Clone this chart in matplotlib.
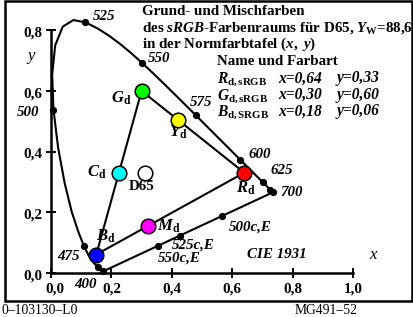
import matplotlib
matplotlib.use("Agg")
import matplotlib.pyplot as plt
from matplotlib.patches import Rectangle

plt.rcParams['font.family'] = ['Liberation Serif', 'DejaVu Serif']
plt.rcParams['mathtext.fontset'] = 'custom'
plt.rcParams['mathtext.rm'] = 'Liberation Serif:bold'
plt.rcParams['mathtext.bf'] = 'Liberation Serif:bold'
plt.rcParams['mathtext.it'] = 'Liberation Serif:italic:bold'

# ---------------- data ----------------
# CIE 1931 spectral locus (wavelength nm, x, y)
wavelengths = [380, 400, 410, 420, 430, 440, 450, 460, 465, 470, 475, 480, 485, 490, 495,
               500, 505, 510, 515, 520, 525, 530, 535, 540, 545, 550, 555, 560, 565, 570,
               575, 580, 585, 590, 595, 600, 605, 610, 615, 620, 625, 630, 640, 650, 660,
               680, 700]
locus_x = [0.1741, 0.1733, 0.1726, 0.1714, 0.1689, 0.1644, 0.1566, 0.1440, 0.1355, 0.1241,
           0.1096, 0.0913, 0.0687, 0.0454, 0.0235, 0.0082, 0.0039, 0.0139, 0.0389, 0.0743,
           0.1142, 0.1547, 0.1929, 0.2296, 0.2658, 0.3016, 0.3373, 0.3731, 0.4087, 0.4441,
           0.4788, 0.5125, 0.5448, 0.5752, 0.6029, 0.6270, 0.6482, 0.6658, 0.6801, 0.6915,
           0.7006, 0.7079, 0.7190, 0.7260, 0.7300, 0.7334, 0.7347]
locus_y = [0.0050, 0.0048, 0.0048, 0.0051, 0.0069, 0.0109, 0.0177, 0.0297, 0.0399, 0.0578,
           0.0868, 0.1327, 0.2007, 0.2950, 0.4127, 0.5384, 0.6548, 0.7502, 0.8120, 0.8338,
           0.8262, 0.8059, 0.7816, 0.7543, 0.7243, 0.6923, 0.6589, 0.6245, 0.5896, 0.5547,
           0.5202, 0.4866, 0.4544, 0.4242, 0.3965, 0.3725, 0.3514, 0.3340, 0.3197, 0.3083,
           0.2993, 0.2920, 0.2809, 0.2740, 0.2700, 0.2666, 0.2653]
marked_wl = [400, 450, 475, 500, 525, 550, 575, 600, 625, 650, 700]
labeled_wl = ['400', '475', '500', '525', '550', '575', '600', '625', '700']

# purple line (400 nm -> 700 nm) and complementary wavelength points
purple_x = [0.1733, 0.7347]
purple_y = [0.0048, 0.2653]
compl_labels = ['500c,E', '525c,E', '550c,E']
compl_x = [0.565, 0.427, 0.354]
compl_y = [0.188, 0.122, 0.089]

# sRGB primaries and mixtures
prim_names = ['R', 'G', 'B']
prim_x = [0.64, 0.30, 0.15]
prim_y = [0.33, 0.60, 0.06]
prim_colors = ['#ff0000', '#00ff00', '#0000ff']
mix_names = ['Y', 'C', 'M', 'D65']
mix_x = [0.419, 0.225, 0.321, 0.3127]
mix_y = [0.505, 0.329, 0.154, 0.329]
mix_colors = ['#ffff00', '#00ffff', '#ff00ff', '#ffffff']

x_ticks = [0.0, 0.2, 0.4, 0.6, 0.8, 1.0]
y_ticks = [0.0, 0.2, 0.4, 0.6, 0.8]
x_ticklabels = ['0,0', '0,2', '0,4', '0,6', '0,8', '1,0']
y_ticklabels = ['0,0', '0,2', '0,4', '0,6', '0,8']

table_rows = [(r'$R_{\mathrm{d,sRGB}}$', 'x=0,64', 'y=0,33'),
              (r'$G_{\mathrm{d,sRGB}}$', 'x=0,30', 'y=0,60'),
              (r'$B_{\mathrm{d,SRGB}}$', 'x=0,18', 'y=0,06')]

# ---------------- figure ----------------
W, H = 413, 317
X0, XS = 51.0, 302.0
Y0, YS = 272.7, 303.0


def fx(px):
    return (px - X0) / XS


def fy(py):
    return (Y0 - py) / YS


fig = plt.figure(figsize=(W / 100, H / 100), dpi=100)
ax = fig.add_axes([0, 0, 1, 1])
ax.set_xlim(fx(0), fx(W))
ax.set_ylim(fy(H), fy(0))
ax.axis('off')

# frame
ax.add_patch(Rectangle((fx(5), fy(301)), fx(412) - fx(5), fy(1) - fy(301),
                       fill=False, lw=1.8, ec='black', zorder=1))

# axes
ax.plot([0, 1.0], [0, 0], color='black', lw=1.8, zorder=2)
ax.plot([0, 0], [0, 0.8], color='black', lw=1.8, zorder=2)
tx = 4 / XS
ty = 4 / YS
for v, lab in zip(x_ticks, x_ticklabels):
    ax.plot([v, v], [-ty, ty], color='black', lw=1.4)
    ax.text(v + (4 / XS if v == 0 else 0), fy(289), lab, ha='center', va='center',
            fontsize=10.8, fontweight='bold')
for v, lab in zip(y_ticks, y_ticklabels):
    ax.plot([-tx, tx], [v, v], color='black', lw=1.4)
    ax.text(fx(42), v - 3 / YS, lab, ha='right', va='center', fontsize=10.8, fontweight='bold')

ax.text(fx(31), fy(56), 'y', ha='center', va='center', fontsize=12, style='italic')
ax.text(fx(373), fy(255), 'x', ha='center', va='center', fontsize=12, style='italic')
ax.text(fx(247), fy(255), 'CIE 1931', ha='left', va='center', fontsize=10.8,
        fontweight='bold', style='italic')

# spectral locus
ax.plot(locus_x, locus_y, color='black', lw=1.5, zorder=3)
ax.plot(purple_x, purple_y, color='black', lw=1.5, zorder=3)
mk_x = [locus_x[wavelengths.index(w)] for w in marked_wl]
mk_y = [locus_y[wavelengths.index(w)] for w in marked_wl]
ax.plot(mk_x, mk_y, 'o', color='black', ms=4.2, zorder=4)
ax.plot(compl_x, compl_y, 'o', color='black', ms=4.2, zorder=4)

wl_label_pos = {'525': (93, 17), '550': (148, 59), '575': (190, 103), '600': (248, 154),
                '625': (270, 170), '700': (280, 193), '500': (17, 112), '475': (57, 257),
                '400': (74, 284)}
for lab in labeled_wl:
    px, py = wl_label_pos[lab]
    ax.text(fx(px), fy(py), lab, ha='left', va='center', fontsize=10.8,
            fontweight='bold', style='italic')

compl_pos = {'500c,E': (229, 227), '525c,E': (172, 245), '550c,E': (158, 258)}
for lab in compl_labels:
    px, py = compl_pos[lab]
    ax.text(fx(px), fy(py), lab, ha='left', va='center', fontsize=10.8,
            fontweight='bold', style='italic')

# triangle
tri_x = prim_x + [prim_x[0]]
tri_y = prim_y + [prim_y[0]]
ax.plot(tri_x, tri_y, color='black', lw=1.5, zorder=5)

for x, y, c in zip(prim_x + mix_x, prim_y + mix_y, prim_colors + mix_colors):
    ax.plot([x], [y], 'o', ms=10.5, mfc=c, mec='black', mew=1.1, zorder=6)

circ_label_pos = {'R': (236, 188), 'G': (111, 98), 'B': (96, 236), 'Y': (169, 132),
                  'C': (87, 172), 'M': (157, 226)}
for n in ['R', 'G', 'B', 'Y', 'C', 'M']:
    px, py = circ_label_pos[n]
    ax.text(fx(px), fy(py), r'$%s_{\mathrm{d}}$' % n, ha='left', va='center', fontsize=12)
ax.text(fx(129), fy(186.5), 'D65', ha='left', va='center', fontsize=10.8, fontweight='bold')

# title block
ax.text(fx(142), fy(15), 'Grund- und Mischfarben', ha='left', va='baseline',
        fontsize=10.8, fontweight='bold')
ax.text(fx(142), fy(32), r'des $sRGB$-Farbenraums für D65, $Y_{\mathrm{W}}$=88,6',
        ha='left', va='baseline', fontsize=10.8, fontweight='bold')
ax.text(fx(142), fy(47.5), r'in der Normfarbtafel $(x,\ y)$', ha='left', va='baseline',
        fontsize=10.8, fontweight='bold')
ax.text(fx(217), fy(65), 'Name und Farbart', ha='left', va='baseline',
        fontsize=10.8, fontweight='bold')
for i, (a, b, c) in enumerate(table_rows):
    yb = 82.5 + 16.5 * i
    ax.text(fx(217), fy(yb), a, ha='left', va='baseline', fontsize=11.2)
    ax.text(fx(278), fy(yb), b, ha='left', va='baseline', fontsize=11.2,
            fontweight='bold', style='italic')
    ax.text(fx(337), fy(yb), c, ha='left', va='baseline', fontsize=11.2,
            fontweight='bold', style='italic')

# footer
ax.text(fx(2), fy(310), '0\u2013103130\u2013L0', ha='left', va='center', fontsize=9.8)
ax.text(fx(295), fy(310), 'MG491\u201352', ha='left', va='center', fontsize=9.8)

fig.savefig('out.png', dpi=100)
